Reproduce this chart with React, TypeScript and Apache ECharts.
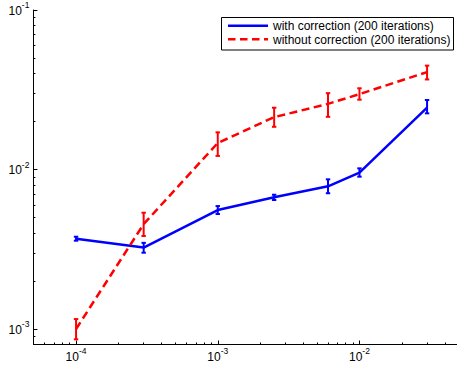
import React, { useEffect, useRef } from "react";
import * as echarts from "echarts";

const xValues = [1e-4, 3e-4, 1e-3, 2.5e-3, 6e-3, 1e-2, 3e-2];
const withCorr = [3.68e-3, 3.24e-3, 5.57e-3, 6.7e-3, 7.85e-3, 9.55e-3, 0.0244];
const withLow = [3.58e-3, 3.01e-3, 5.26e-3, 6.44e-3, 7.1e-3, 9.02e-3, 0.0225];
const withHigh = [3.79e-3, 3.47e-3, 5.9e-3, 6.95e-3, 8.68e-3, 0.01017, 0.02727];
const withoutCorr = [1.0e-3, 4.55e-3, 0.01466, 0.0213, 0.0258, 0.0297, 0.0408];
const withoutLow = [0.862e-3, 3.83e-3, 0.01217, 0.01853, 0.0214, 0.0274, 0.0367];
const withoutHigh = [1.155e-3, 5.36e-3, 0.0171, 0.0244, 0.0301, 0.0323, 0.0448];
const legendLabels = ["with correction (200 iterations)", "without correction (200 iterations)"];
const xMajorTicks = [1e-4, 1e-3, 1e-2];
const xMinorTicks = [6e-5, 7e-5, 8e-5, 9e-5, 2e-4, 3e-4, 4e-4, 5e-4, 6e-4, 7e-4, 8e-4, 9e-4, 2e-3, 3e-3, 4e-3, 5e-3, 6e-3, 7e-3, 8e-3, 9e-3, 2e-2, 3e-2, 4e-2];
const yMajorTicks = [1e-3, 1e-2, 1e-1];
const yMinorTicks = [9e-4, 2e-3, 3e-3, 4e-3, 5e-3, 6e-3, 7e-3, 8e-3, 9e-3, 2e-2, 3e-2, 4e-2, 5e-2, 6e-2, 7e-2, 8e-2, 9e-2];
const X_MIN = 5e-5, X_MAX = 5e-2, Y_MIN = 8e-4, Y_MAX = 0.1;

const FONT = "'Liberation Sans', Arial, Helvetica, sans-serif";
const BLUE = "#0000ff";
const RED = "#ff0000";

const powLabel = (v: number) => `{a|10}{b|${Math.round(Math.log10(v))}}`;
const rich = {
  a: { fontSize: 12, fontFamily: FONT, color: "#000", lineHeight: 13, verticalAlign: "bottom" },
  b: { fontSize: 8.5, fontFamily: FONT, color: "#000", lineHeight: 9, verticalAlign: "bottom", padding: [0, 0, 7, 0] },
};

function errorBars(color: string) {
  return (params: any, api: any) => {
    const x = api.value(0);
    const p1 = api.coord([x, api.value(1)]);
    const p2 = api.coord([x, api.value(2)]);
    const style = { stroke: color, lineWidth: 2, fill: "none" };
    return {
      type: "group",
      children: [
        { type: "line", shape: { x1: p1[0], y1: p1[1], x2: p2[0], y2: p2[1] }, style },
        { type: "line", shape: { x1: p1[0] - 2.2, y1: p1[1], x2: p1[0] + 2.2, y2: p1[1] }, style },
        { type: "line", shape: { x1: p2[0] - 2.2, y1: p2[1], x2: p2[0] + 2.2, y2: p2[1] }, style },
      ],
    };
  };
}

export default function App() {
  const ref = useRef<HTMLDivElement>(null);
  useEffect(() => {
    document.body.style.margin = "0";
    const chart = echarts.init(ref.current!, null, { renderer: "svg" });
    const majorX = {
      type: "log",
      min: X_MIN,
      max: X_MAX,
      position: "bottom",
      axisLine: { show: true, lineStyle: { color: "#000", width: 1 } },
      axisTick: { show: true, inside: true, length: 4, customValues: xMajorTicks, lineStyle: { color: "#000" } },
      axisLabel: { show: true, customValues: xMajorTicks, formatter: powLabel, rich, margin: 5 },
      splitLine: { show: false },
      minorTick: { show: false },
    };
    const minorX = {
      type: "log",
      min: X_MIN,
      max: X_MAX,
      position: "bottom",
      axisLine: { show: false },
      axisTick: { show: true, inside: true, length: 2, customValues: xMinorTicks, lineStyle: { color: "#000" } },
      axisLabel: { show: false },
      splitLine: { show: false },
    };
    const majorY = {
      type: "log",
      min: Y_MIN,
      max: Y_MAX,
      position: "left",
      axisLine: { show: true, lineStyle: { color: "#000", width: 1 } },
      axisTick: { show: true, inside: true, length: 4, customValues: yMajorTicks, lineStyle: { color: "#000" } },
      axisLabel: { show: true, customValues: yMajorTicks, formatter: powLabel, rich, margin: 4 },
      splitLine: { show: false },
    };
    const minorY = {
      type: "log",
      min: Y_MIN,
      max: Y_MAX,
      position: "left",
      axisLine: { show: false },
      axisTick: { show: true, inside: true, length: 2, customValues: yMinorTicks, lineStyle: { color: "#000" } },
      axisLabel: { show: false },
      splitLine: { show: false },
    };
    const option: any = {
      animation: false,
      backgroundColor: "#fff",
      grid: { left: 33.4, top: 10, right: -1.5, bottom: 26.5, containLabel: false, outerBoundsMode: "none" },
      xAxis: [majorX, minorX],
      yAxis: [majorY, minorY],
      series: [
        {
          name: legendLabels[0],
          type: "line",
          symbol: "none",
          data: xValues.map((x, i) => [x, withCorr[i]]),
          lineStyle: { color: BLUE, width: 2.5 },
          z: 3,
        },
        {
          name: legendLabels[1],
          type: "line",
          symbol: "none",
          data: xValues.map((x, i) => [x, withoutCorr[i]]),
          lineStyle: { color: RED, width: 2.5, type: [8, 4.5] },
          z: 3,
        },
        {
          type: "custom",
          renderItem: errorBars(BLUE),
          encode: { x: 0, y: [1, 2] },
          data: xValues.map((x, i) => [x, withLow[i], withHigh[i]]),
          z: 4,
        },
        {
          type: "custom",
          renderItem: errorBars(RED),
          encode: { x: 0, y: [1, 2] },
          data: xValues.map((x, i) => [x, withoutLow[i], withoutHigh[i]]),
          z: 4,
        },
      ],
      graphic: [
        {
          type: "group",
          left: 221,
          top: 17,
          z: 100,
          children: [
            { type: "rect", shape: { x: 0.5, y: 0.5, width: 232, height: 32.5 }, style: { fill: "#fff", stroke: "#000", lineWidth: 1 } },
            { type: "line", shape: { x1: 7, y1: 8.7, x2: 47, y2: 8.7 }, style: { stroke: BLUE, lineWidth: 2.5 } },
            { type: "line", shape: { x1: 7, y1: 22.3, x2: 47, y2: 22.3 }, style: { stroke: RED, lineWidth: 2.5, lineDash: [7.5, 4.5] } },
            { type: "text", x: 52, y: 9, style: { text: legendLabels[0], fontSize: 12, fontFamily: FONT, fill: "#000", verticalAlign: "middle", align: "left" } },
            { type: "text", x: 52, y: 22.6, style: { text: legendLabels[1], fontSize: 12, fontFamily: FONT, fill: "#000", verticalAlign: "middle", align: "left" } },
          ],
        },
      ],
    };
    chart.setOption(option);
    return () => chart.dispose();
  }, []);
  return <div ref={ref} style={{ position: "fixed", left: 0, top: 0, width: 457, height: 371 }} />;
}
